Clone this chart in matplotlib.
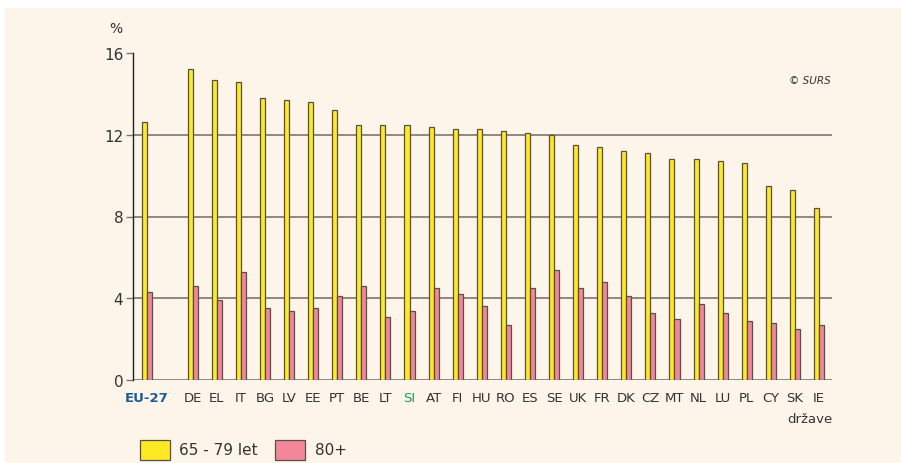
import matplotlib
matplotlib.use("Agg")
import matplotlib.pyplot as plt
from matplotlib.patches import Rectangle
import numpy as np

categories = ["EU-27", "DE", "EL", "IT", "BG", "LV", "EE", "PT", "BE", "LT", "SI", "AT",
              "FI", "HU", "RO", "ES", "SE", "UK", "FR", "DK", "CZ", "MT", "NL", "LU",
              "PL", "CY", "SK", "IE"]
age_65_79 = [12.6, 15.2, 14.7, 14.6, 13.8, 13.7, 13.6, 13.2, 12.5, 12.5, 12.5, 12.4,
             12.3, 12.3, 12.2, 12.1, 12.0, 11.5, 11.4, 11.2, 11.1, 10.8, 10.8, 10.7,
             10.6, 9.5, 9.3, 8.4]
age_80_plus = [4.3, 4.6, 3.9, 5.3, 3.5, 3.4, 3.5, 4.1, 4.6, 3.1, 3.4, 4.5,
               4.2, 3.6, 2.7, 4.5, 5.4, 4.5, 4.8, 4.1, 3.3, 3.0, 3.7, 3.3,
               2.9, 2.8, 2.5, 2.7]
series_labels = ["65 - 79 let", "80+"]
yticks = [0, 4, 8, 12, 16]

bg = "#FDF5E9"
yellow = "#FFE824"
pink = "#F2879A"
edge = "#555048"

fig = plt.figure(figsize=(9.01, 4.64), dpi=100, facecolor="white")
# cream panel, leaving white strips at top and left as in the reference
fig.patches.append(Rectangle((5/901, -0.01), 1.0, 1.01 - 9/464, transform=fig.transFigure,
                             facecolor=bg, edgecolor="none", zorder=-5))

ax = fig.add_axes([133/901, 1-381/464, (832-133)/901, (381-54)/464])
ax.set_zorder(2)
ax.set_facecolor(bg)

x = np.array([0.0] + [1.9 + i for i in range(len(categories) - 1)])
w = 0.21
ax.bar(x - w/2, age_65_79, width=w, color=yellow, edgecolor=edge, linewidth=0.9, zorder=3)
ax.bar(x + w/2, age_80_plus, width=w, color=pink, edgecolor=edge, linewidth=0.9, zorder=3)

ax.set_xlim(x[0] - 0.58, x[-1] + 0.54)
ax.set_ylim(0, 16)
ax.set_yticks(yticks)
ax.set_yticklabels([str(v) for v in yticks], fontsize=11, color="#333333")
for v in yticks[:-1]:
    ax.axhline(v, color="#7d7670", linewidth=1.2, zorder=1)

ax.set_xticks(x)
ax.set_xticklabels(categories, fontsize=9.5, color="#333333")
ax.tick_params(axis="x", length=0, pad=8)
ax.tick_params(axis="y", length=5, width=1, color="#7d7670", pad=2)
for lbl in ax.get_xticklabels():
    if lbl.get_text() == "EU-27":
        lbl.set_color("#1B5C96")
        lbl.set_fontweight("bold")
    elif lbl.get_text() == "SI":
        lbl.set_color("#1E9A4C")

for s in ["top", "right", "bottom"]:
    ax.spines[s].set_visible(False)
ax.spines["left"].set_color("#222222")
ax.spines["left"].set_linewidth(1.0)

fig.text(116/901, 1-29/464, "%", fontsize=10, color="#333333", ha="center", va="center")
fig.text(831/901, 1-81/464, "© SURS", fontsize=7.5, style="italic", color="#333333", ha="right", va="center")
fig.text(832/901, 1-420/464, "države", fontsize=9.5, color="#333333", ha="right", va="center")

# legend
fig.patches.append(Rectangle((140/901, 1-461/464), 30/901, 20/464, transform=fig.transFigure,
                             facecolor=yellow, edgecolor=edge, linewidth=0.9))
fig.text(179/901, 1-451/464, series_labels[0], fontsize=11, color="#333333", ha="left", va="center")
fig.patches.append(Rectangle((275/901, 1-461/464), 30/901, 20/464, transform=fig.transFigure,
                             facecolor=pink, edgecolor=edge, linewidth=0.9))
fig.text(315/901, 1-451/464, series_labels[1], fontsize=11, color="#333333", ha="left", va="center")

fig.savefig("out.png", dpi=100, facecolor="white")
